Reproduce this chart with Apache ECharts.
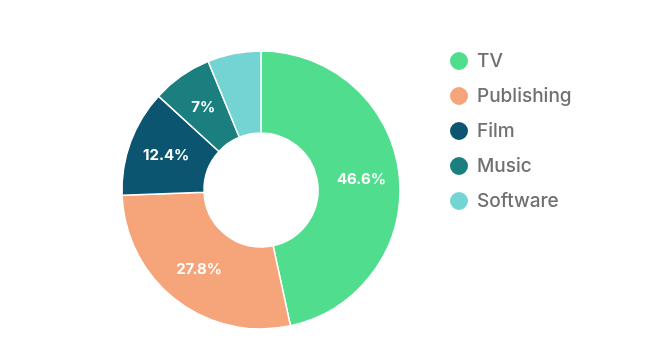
<!DOCTYPE html>
<html><head><meta charset="utf-8">
<script src="https://cdn.jsdelivr.net/npm/echarts@6/dist/echarts.min.js"></script>
<style>html,body{margin:0;padding:0;background:#fff}#c{width:655px;height:359px}</style>
</head><body><div id="c"></div>
<script>
const categories = ["TV", "Publishing", "Film", "Music", "Software"];
const values = [46.6, 27.8, 12.4, 7.0, 6.2];
const labels = ["46.6%", "27.8%", "12.4%", "7%", ""];
const colors = ["#50DE8E", "#F6A57A", "#0B5571", "#1B7F80", "#74D4D4"];

const chart = echarts.init(document.getElementById('c'));
chart.setOption({
  backgroundColor: '#fff',
  animation: false,
  color: colors,
  legend: {
    orient: 'vertical', left: 443, top: 45,
    icon: 'circle', itemWidth: 20, itemHeight: 20, itemGap: 13,
    textStyle: { fontSize: 19, color: '#707070', fontFamily: 'Inter', fontWeight: 500, padding: [0, 0, 0, 3] },
    data: categories
  },
  series: [{
    type: 'pie',
    center: [261, 190],
    radius: [57, 139],
    startAngle: 90,
    clockwise: true,
    itemStyle: { borderColor: '#fff', borderWidth: 1.5 },
    label: {
      position: 'inside', color: '#fff', fontWeight: 'bold', fontSize: 15, fontFamily: 'Inter',
      formatter: p => labels[p.dataIndex]
    },
    labelLine: { show: false },
    data: categories.map((c, i) => ({ name: c, value: values[i] }))
  }]
});
</script></body></html>
